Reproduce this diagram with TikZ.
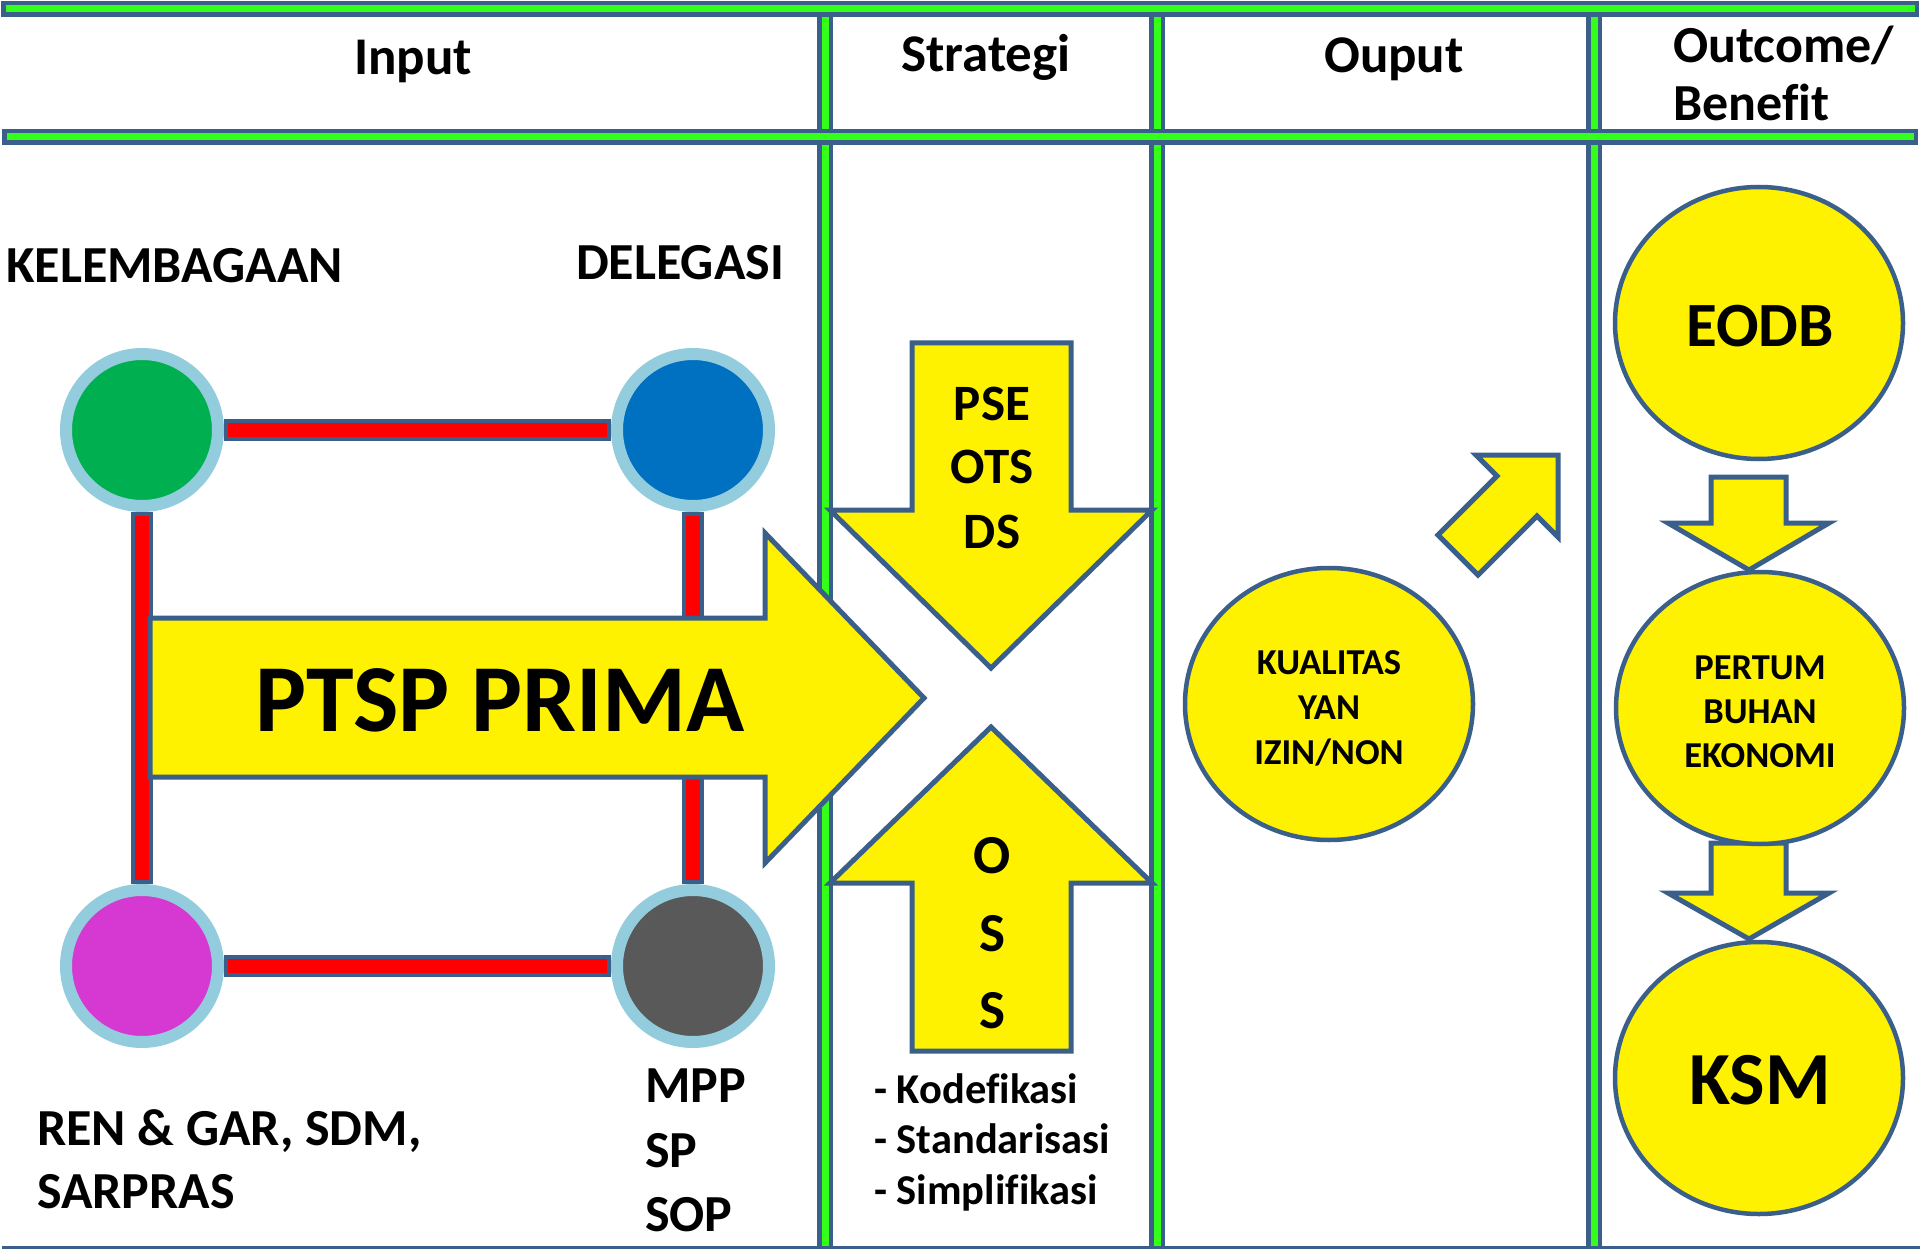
\documentclass[tikz,border=0pt]{standalone}
\usepackage{fontspec}
\setmainfont{Carlito}[Ligatures=CommonOff]
\usetikzlibrary{shapes.geometric}
\definecolor{bord}{RGB}{58,95,139}
\definecolor{lgreen}{RGB}{51,255,26}
\definecolor{ring}{RGB}{147,205,221}
\definecolor{cgreen}{RGB}{0,176,80}
\definecolor{cblue}{RGB}{0,112,192}
\definecolor{cmag}{RGB}{214,56,210}
\definecolor{cgray}{RGB}{89,89,89}
\begin{document}
\begin{tikzpicture}[x=1pt,y=-1pt,
  hdr/.style={font=\bfseries\fontsize{53}{64}\selectfont, anchor=base, inner sep=0pt},
  hdrl/.style={font=\bfseries\fontsize{52}{64}\selectfont, anchor=base west, inner sep=0pt},
  lbl/.style={font=\bfseries\fontsize{52}{62}\selectfont, anchor=base west, inner sep=0pt},
  bigtxt/.style={font=\bfseries\fontsize{96}{110}\selectfont, anchor=base, inner sep=0pt},
  strat/.style={font=\bfseries\fontsize{51}{60}\selectfont, anchor=base, inner sep=0pt},
  osstxt/.style={font=\bfseries\fontsize{55}{64}\selectfont, anchor=base, inner sep=0pt},
  bul/.style={font=\bfseries\fontsize{42.5}{52}\selectfont, anchor=base west, inner sep=0pt},
  smalltxt/.style={font=\bfseries\fontsize{36.5}{42}\selectfont, anchor=base, inner sep=0pt},
  dot/.style={circle, draw=ring, line width=12pt, minimum size=152pt, inner sep=0pt},
  rbar/.style={line width=22pt, draw=bord},
  rcore/.style={line width=14pt, draw=red, shorten >=4pt, shorten <=4pt},
  yshape/.style={fill=yellow, draw=bord, line width=5pt, line join=miter},
  ell/.style={ellipse, fill=yellow, draw=bord, line width=4.5pt, minimum width=288pt, minimum height=272pt, inner sep=0pt},
  gbar/.style={line width=16pt, draw=bord},
  gcore/.style={line width=7pt, draw=lgreen}]
\useasboundingbox (0,0) rectangle (1920,1249);
\fill[white] (0,0) rectangle (1920,1249);

% vertical column lines
\foreach \x in {825,1157,1594}{
  \draw[gbar] (\x,9) -- (\x,1249);
  \draw[gcore] (\x,9) -- (\x,1249);
}
% horizontal bars
\draw[gbar] (1,9) -- (1919,9);
\draw[gcore] (5.5,9) -- (1914.5,9);
\draw[gbar] (2,137) -- (1918,137);
\draw[gcore] (6.5,137) -- (1913.5,137);
\draw[bord, line width=3pt] (2,1247.5) -- (1920,1247.5);

% headers
\node[hdr] (hIn) at (413,75) {Input};
\node[hdr] (hSt) at (986,72) {Strategi};
\node[hdr] (hOu) at (1394,73) {Ouput};
\node[hdrl] (hOc) at (1673,63) {Outcome/};
\node[hdrl] (hBe) at (1673,121) {Benefit};

% input circles
\node[dot, fill=cgreen] (kel) at (142,430) {};
\node[dot, fill=cblue] (del) at (693,430) {};
\node[dot, fill=cmag] (ren) at (142,966) {};
\node[dot, fill=cgray] (mpp) at (693,966) {};
\draw[rbar] (kel) -- (del); \draw[rcore] (kel) -- (del);
\draw[rbar] (ren) -- (mpp); \draw[rcore] (ren) -- (mpp);
\draw[rbar] (kel) -- (ren); \draw[rcore] (kel) -- (ren);
\draw[rbar] (del) -- (mpp); \draw[rcore] (del) -- (mpp);

\node[lbl] (tKel) at (6,283) {KELEMBAGAAN};
\node[lbl] (tDel) at (576,280) {DELEGASI};
\node[lbl] (tRen1) at (37,1145) {REN \& GAR, SDM,};
\node[lbl] (tRen2) at (37,1208) {SARPRAS};
\node[lbl] (tM1) at (645,1102) {MPP};
\node[lbl] (tM2) at (645,1167) {SP};
\node[lbl] (tM3) at (645,1231) {SOP};

% PTSP PRIMA arrow
\draw[yshape] (150,618) -- (765,618) -- (765,533) -- (924,698) -- (765,863) -- (765,777) -- (150,777) -- cycle;
\node[bigtxt] (ptsp) at (500,731) {PTSP PRIMA};

% strategy arrows
\draw[yshape] (912,343) -- (1071,343) -- (1071,510) -- (1152,510) -- (991,668) -- (830,510) -- (912,510) -- cycle;
\node[strat] (sPSE) at (992,420) {PSE};
\node[strat] (sOTS) at (992,483) {OTS};
\node[strat] (sDS) at (992,548) {DS};
\draw[yshape] (912,1051) -- (1071,1051) -- (1071,883) -- (1152,883) -- (991,727) -- (830,883) -- (912,883) -- cycle;
\node[osstxt] (o1) at (992,873) {O};
\node[osstxt] (o2) at (992,951) {S};
\node[osstxt] (o3) at (992,1028) {S};
\node[bul] (b1) at (874,1103) {- Kodefikasi};
\node[bul] (b2) at (874,1153) {- Standarisasi};
\node[bul] (b3) at (874,1204) {- Simplifikasi};

% output
\node[ell] (kual) at (1329,704) {};
\node[smalltxt] (k1) at (1329,674) {KUALITAS};
\node[smalltxt] (k2) at (1329,719) {YAN};
\node[smalltxt] (k3) at (1329,764) {IZIN/NON};
\draw[yshape] (1558,455) -- (1476,455) -- (1497,476) -- (1438,535) -- (1478,575) -- (1537,516) -- (1558,537) -- cycle;

% outcome
\draw[yshape] (1711,477) -- (1786,477) -- (1786,523) -- (1829,523) -- (1749,570) -- (1668,523) -- (1711,523) -- cycle;
\draw[yshape] (1711,843) -- (1786,843) -- (1786,893) -- (1829,893) -- (1749,939) -- (1668,893) -- (1711,893) -- cycle;
\node[ell] (eodb) at (1759,323) {};
\node[ell] (pert) at (1760,708) {};
\node[ell] (ksm) at (1759,1078) {};
\node[font=\bfseries\fontsize{63}{74}\selectfont, anchor=base, inner sep=0pt] (tE) at (1760,346) {EODB};
\node[smalltxt] (p1) at (1760,679) {PERTUM};
\node[smalltxt] (p2) at (1760,723) {BUHAN};
\node[smalltxt] (p3) at (1760,767) {EKONOMI};
\node[font=\bfseries\fontsize{75}{88}\selectfont, anchor=base, inner sep=0pt] (tK) at (1760,1104) {KSM};
\end{tikzpicture}
\end{document}
